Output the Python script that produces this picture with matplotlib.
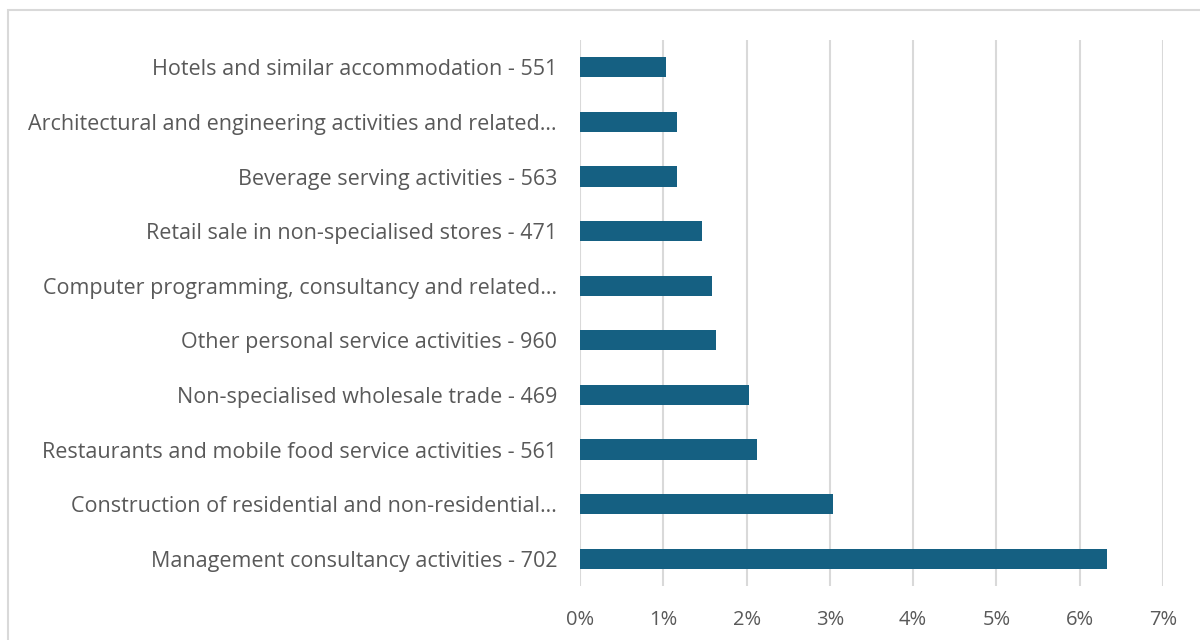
import matplotlib
matplotlib.use("Agg")
import matplotlib.pyplot as plt
from matplotlib.patches import Rectangle
from matplotlib.ticker import FuncFormatter

categories = [
    "Management consultancy activities - 702",
    "Construction of residential and non-residential…",
    "Restaurants and mobile food service activities - 561",
    "Non-specialised wholesale trade - 469",
    "Other personal service activities - 960",
    "Computer programming, consultancy and related…",
    "Retail sale in non-specialised stores - 471",
    "Beverage serving activities - 563",
    "Architectural and engineering activities and related…",
    "Hotels and similar accommodation - 551",
]
values = [6.33, 3.04, 2.13, 2.03, 1.63, 1.58, 1.46, 1.17, 1.17, 1.03]
xticks = [0, 1, 2, 3, 4, 5, 6, 7]

plt.rcParams['font.family'] = ['Open Sans', 'DejaVu Sans']
fig = plt.figure(figsize=(12, 6.4), dpi=100)
W, H = 1200, 640
ax = fig.add_axes([580 / W, 1 - 586 / H, (1163 - 580) / W, (586 - 40) / H])

bar_color = "#156082"
ax.barh(range(len(categories)), values, height=0.37, color=bar_color, zorder=3)
ax.set_ylim(-0.5, len(categories) - 0.5)
ax.set_xlim(0, 7)
ax.set_xticks(xticks)
ax.xaxis.set_major_formatter(FuncFormatter(lambda v, p: f"{v:.0f}%"))
ax.set_yticks(range(len(categories)))
ax.set_yticklabels(categories)
ax.grid(axis="x", color="#d9d9d9", linewidth=1.5, zorder=0)
for s in ax.spines.values():
    s.set_visible(False)
ax.tick_params(axis="both", length=0, colors="#595959")
ax.tick_params(axis="y", pad=16.5, labelsize=15.5)
ax.tick_params(axis="x", pad=17, labelsize=14.5)

fig.patches.append(Rectangle((8 / W, -0.1), 1.2, 1 - 10 / H + 0.1, transform=fig.transFigure,
                             fill=False, edgecolor="#d9d9d9", linewidth=1.5))

fig.savefig("out.png", dpi=100)
